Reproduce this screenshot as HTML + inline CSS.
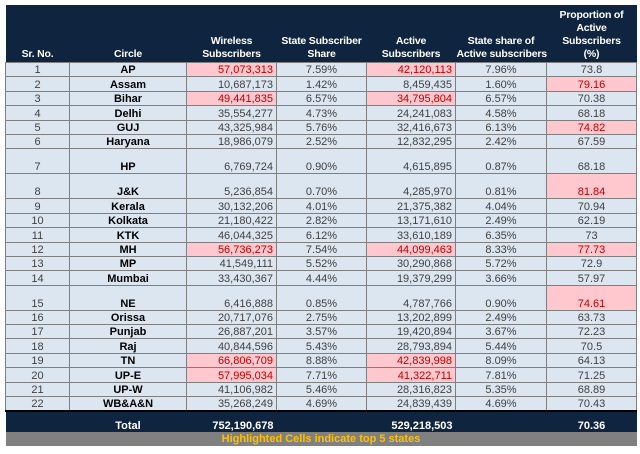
<!DOCTYPE html>
<html><head><meta charset="utf-8"><style>
body{margin:0;width:640px;height:454px;background:#fff;overflow:hidden;font-family:"Liberation Sans",sans-serif;}
table{position:absolute;left:5px;top:5px;border-collapse:collapse;table-layout:fixed;width:631px;font-size:11px;}
th{background:#0f243e;color:#fff;font-weight:bold;vertical-align:bottom;padding:0 1px 1px;line-height:13px;height:56px;font-size:10.5px;white-space:nowrap;letter-spacing:-0.2px;}
td{background:#dce6f1;color:#404040;border:1px solid #7f7f7f;padding:0 3px;height:13.4px;line-height:12px;vertical-align:bottom;text-align:center;white-space:nowrap;}
td.c{color:#000;font-weight:bold}
td.n{text-align:right}
tr.tall td{height:24px}
.h{background:#ffc7ce;color:#c00000}
tr.tot td{background:#0f243e;color:#fff;font-weight:bold;height:20px;border:none;border-top:2px solid #000}
tr.note td{background:#808080;color:#ffc000;font-weight:bold;height:14px;line-height:13px;border:none}
</style></head><body>
<table>
<colgroup><col style="width:64px"><col style="width:117px"><col style="width:90px"><col style="width:90px"><col style="width:89px"><col style="width:91px"><col style="width:90px"></colgroup>
<thead><tr>
<th>Sr. No.</th>
<th>Circle</th>
<th>Wireless<br>Subscribers</th>
<th>State Subscriber<br>Share</th>
<th>Active<br>Subscribers</th>
<th>State share of<br>Active subscribers</th>
<th>Proportion of<br>Active<br>Subscribers<br>(%)</th>
</tr></thead>
<tbody id="tb"></tbody>
</table>
<script>
const rows=[
["1","AP","57,073,313","7.59%","42,120,113","7.96%","73.8",[2,4]],
["2","Assam","10,687,173","1.42%","8,459,435","1.60%","79.16",[6]],
["3","Bihar","49,441,835","6.57%","34,795,804","6.57%","70.38",[2,4]],
["4","Delhi","35,554,277","4.73%","24,241,083","4.58%","68.18",[]],
["5","GUJ","43,325,984","5.76%","32,416,673","6.13%","74.82",[6]],
["6","Haryana","18,986,079","2.52%","12,832,295","2.42%","67.59",[]],
["7","HP","6,769,724","0.90%","4,615,895","0.87%","68.18",[],1],
["8","J&K","5,236,854","0.70%","4,285,970","0.81%","81.84",[6],1],
["9","Kerala","30,132,206","4.01%","21,375,382","4.04%","70.94",[]],
["10","Kolkata","21,180,422","2.82%","13,171,610","2.49%","62.19",[]],
["11","KTK","46,044,325","6.12%","33,610,189","6.35%","73",[]],
["12","MH","56,736,273","7.54%","44,099,463","8.33%","77.73",[2,4,6]],
["13","MP","41,549,111","5.52%","30,290,868","5.72%","72.9",[]],
["14","Mumbai","33,430,367","4.44%","19,379,299","3.66%","57.97",[]],
["15","NE","6,416,888","0.85%","4,787,766","0.90%","74.61",[6],1],
["16","Orissa","20,717,076","2.75%","13,202,899","2.49%","63.73",[]],
["17","Punjab","26,887,201","3.57%","19,420,894","3.67%","72.23",[]],
["18","Raj","40,844,596","5.43%","28,793,894","5.44%","70.5",[]],
["19","TN","66,806,709","8.88%","42,839,998","8.09%","64.13",[2,4]],
["20","UP-E","57,995,034","7.71%","41,322,711","7.81%","71.25",[2,4]],
["21","UP-W","41,106,982","5.46%","28,316,823","5.35%","68.89",[]],
["22","WB&A&N","35,268,249","4.69%","24,839,439","4.69%","70.43",[]]];
const tb=document.getElementById('tb');
const names=['sr-no','circle','wireless','state-share','active','active-share','proportion'];
rows.forEach(r=>{
const tr=document.createElement('tr');


if(r[8])tr.className='tall';
for(let i=0;i<7;i++){const td=document.createElement('td');td.textContent=r[i];


let cls=[];if(i==1)cls.push('c');if(i==2||i==4)cls.push('n');if(r[7].includes(i))cls.push('h');td.className=cls.join(' ');tr.appendChild(td);}
tb.appendChild(tr);});
const tot=document.createElement('tr');tot.className='tot';


tot.innerHTML='<td></td><td>Total</td><td class="n">752,190,678</td><td></td><td class="n">529,218,503</td><td></td><td>70.36</td>';
tb.appendChild(tot);
const nt=document.createElement('tr');nt.className='note';


nt.innerHTML='<td colspan="7">Highlighted Cells indicate top 5 states</td>';
tb.appendChild(nt);
</script>
</body></html>
